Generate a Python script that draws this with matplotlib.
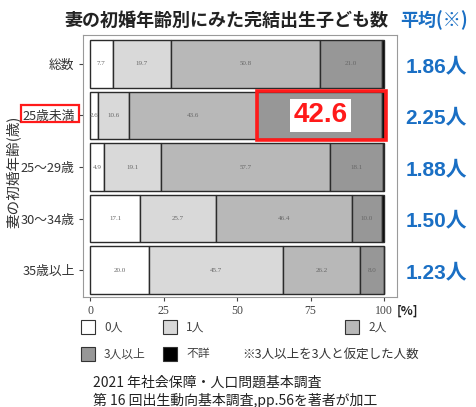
import numpy as np
import matplotlib
matplotlib.use("Agg")
import matplotlib.pyplot as plt
from matplotlib.patches import Rectangle
from matplotlib import transforms

plt.rcParams['font.family'] = ['Noto Sans CJK JP', 'DejaVu Sans']

# data (percent)
groups = ['総数', '25歳未満', '25〜29歳', '30〜34歳', '35歳以上']
kids = ['0人', '1人', '2人', '3人以上', '不詳']
zero = [7.7, 2.6, 4.9, 17.1, 20.0]
one = [19.7, 10.6, 19.1, 25.7, 45.7]
two = [50.8, 43.6, 57.7, 46.4, 26.2]
three = [21.0, 42.6, 18.1, 10.0, 8.0]
unknown = [0.8, 0.6, 0.2, 0.8, 0.1]
means = [1.86, 2.25, 1.88, 1.50, 1.23]
xticks = [0, 25, 50, 75, 100]

colors = ['#ffffff', '#d9d9d9', '#b8b8b8', '#979797', '#000000']
blue = '#1a6fc4'

W, H = 477, 407
fig = plt.figure(figsize=(W / 100, H / 100), dpi=100)

def fx(x):
    return x / W

def fy(y):
    return 1 - y / H

ax = fig.add_axes([fx(83), fy(297), fx(397) - fx(83), fy(35) - fy(297)])

ypos = np.arange(len(groups))
series = [zero, one, two, three, unknown]
left = np.zeros(len(groups))
for k, (vals, c) in enumerate(zip(series, colors)):
    vals = np.array(vals)
    ax.barh(ypos, vals, left=left, height=0.92, color=c,
            edgecolor='#2b2b2b', linewidth=1.0)
    for i in range(len(groups)):
        if vals[i] < 2 or k == 4 or (k == 3 and i == 1):
            continue
        ax.text(left[i] + vals[i] / 2, ypos[i], f'{vals[i]:.1f}',
                ha='center', va='center', fontsize=5, color='#666666',
                family='Liberation Serif')
    left = left + vals

ax.set_xlim(-2.4, 104.4)
ax.set_ylim(len(groups) - 0.48, -0.56)
ax.set_xticks(xticks)
ax.set_xticklabels([str(t) for t in xticks], family='Liberation Serif',
                   fontsize=8.5, color='#444444')
ax.set_yticks(ypos)
ax.set_yticklabels(groups, fontsize=9.2, color='#333333')
ax.tick_params(axis='both', length=3, width=0.8, color='#444444', pad=3)
for s in ax.spines.values():
    s.set_color('#9a9a9a')
    s.set_linewidth(0.8)

# red highlight on 25歳未満, 3人以上
start = zero[1] + one[1] + two[1]
ax.add_patch(Rectangle((start, 1 - 0.47), 100 - start + 0.6, 0.94,
                       fill=False, edgecolor='#ff1a1a', linewidth=2.6,
                       clip_on=False, zorder=5))
ax.text(start + three[1] / 2 + 0.3, 1.0, f'{three[1]:.1f}', ha='center',
        va='center', fontsize=20, fontweight='bold', color='#ff1a1a',
        family='Liberation Sans', zorder=6,
        bbox=dict(boxstyle='square,pad=0.12', fc='white', ec='none'))

# mean labels
trans = transforms.blended_transform_factory(ax.transAxes, ax.transData)
for i, m in enumerate(means):
    ax.text(1.027, ypos[i] + 0.05, f'{m:.2f}人', transform=trans, ha='left',
            va='center', fontsize=15, fontweight='bold', color=blue,
            family=['Liberation Sans', 'Noto Sans CJK JP'], clip_on=False)

# titles
fig.text(fx(226), fy(20), '妻の初婚年齢別にみた完結出生子ども数', ha='center',
         va='center', fontsize=13, fontweight='bold', color='#222222')
fig.text(fx(400), fy(20), '平均(※)', ha='left', va='center', fontsize=13,
         fontweight='bold', color=blue,
         family=['Noto Sans CJK JP', 'DejaVu Sans'])
fig.text(fx(13), fy(172), '妻の初婚年齢(歳)', rotation=90, ha='center',
         va='center', fontsize=10.5, color='#333333')
fig.text(fx(397), fy(311), '[%]', ha='left', va='center', fontsize=9,
         fontweight='bold', color='#222222')

# red box around tick label
fig.patches.append(Rectangle((fx(21), fy(122)), fx(79) - fx(21),
                             fy(105) - fy(122), fill=False, edgecolor='#ff1a1a',
                             linewidth=1.6, transform=fig.transFigure,
                             figure=fig))

# legend
legend_pos = [(81, 327), (163, 327), (345, 327), (81, 354), (163, 354)]
for (x, y), c, lab in zip(legend_pos, colors, kids):
    fig.patches.append(Rectangle((fx(x), fy(y + 7)), fx(14), 14 / H,
                                 facecolor=c, edgecolor='#333333',
                                 linewidth=0.8, transform=fig.transFigure,
                                 figure=fig))
    fig.text(fx(x + 23), fy(y), lab, ha='left', va='center', fontsize=8.5,
             color='#444444')
fig.text(fx(242), fy(354), '※3人以上を3人と仮定した人数', ha='left',
         va='center', fontsize=9, color='#333333')

# source
fig.text(fx(93), fy(383), '2021 年社会保障・人口問題基本調査', ha='left',
         va='center', fontsize=10, color='#222222')
fig.text(fx(93), fy(400), '第 16 回出生動向基本調査,pp.56を著者が加工', ha='left',
         va='center', fontsize=10, color='#222222')

fig.savefig('out.png', dpi=100)
